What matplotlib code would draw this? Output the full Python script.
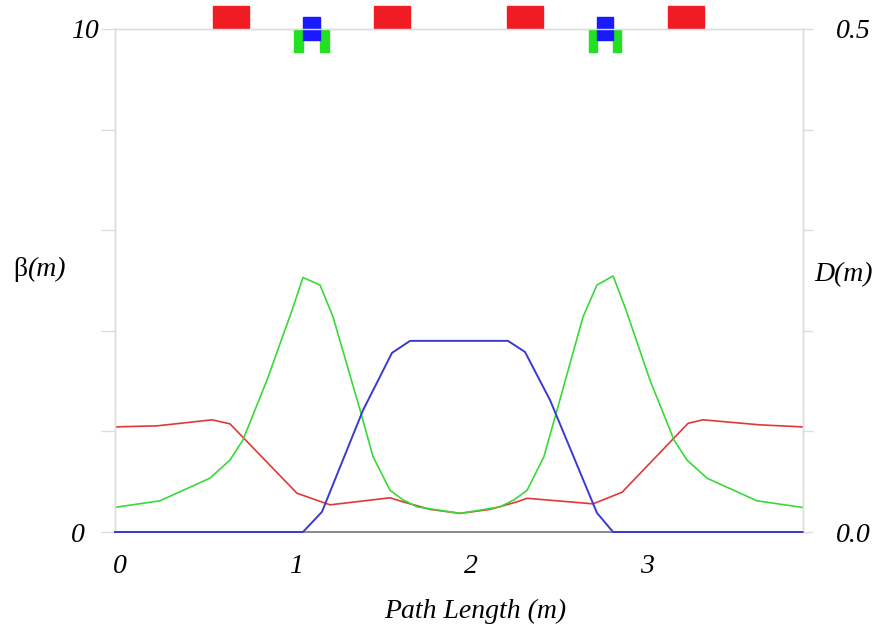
import matplotlib
matplotlib.use("Agg")
import matplotlib.pyplot as plt
import matplotlib.transforms as mtransforms
from matplotlib.patches import Rectangle

# lattice functions (s in m)
s_red = [0.000, 0.239, 0.553, 0.655, 1.037, 1.225, 1.567, 1.641, 1.795, 1.966,
         2.137, 2.291, 2.348, 2.724, 2.889, 3.265, 3.350, 3.675, 3.915]
beta_red = [2.09, 2.11, 2.23, 2.15, 0.77, 0.54, 0.68, 0.60, 0.45, 0.37,
            0.45, 0.60, 0.67, 0.56, 0.79, 2.16, 2.23, 2.13, 2.09]

s_green = [0.000, 0.256, 0.541, 0.655, 0.729, 0.866, 1.009, 1.071, 1.168, 1.242,
           1.396, 1.470, 1.567, 1.641, 1.721, 1.966, 2.194, 2.274, 2.348, 2.444,
           2.519, 2.667, 2.746, 2.838, 2.912, 3.048, 3.185, 3.259, 3.373, 3.658, 3.915]
beta_green = [0.49, 0.62, 1.07, 1.43, 1.83, 3.02, 4.41, 5.06, 4.91, 4.28,
              2.43, 1.50, 0.83, 0.64, 0.50, 0.37, 0.50, 0.64, 0.83, 1.50,
              2.43, 4.28, 4.91, 5.09, 4.41, 3.02, 1.83, 1.43, 1.07, 0.62, 0.49]

s_disp = [0.000, 1.071, 1.179, 1.413, 1.578, 1.681, 2.239, 2.336, 2.479, 2.746, 2.838, 3.915]
disp = [0.0, 0.0, 0.020, 0.121, 0.178, 0.190, 0.190, 0.179, 0.131, 0.019, 0.0, 0.0]

# magnet layout along the beamline: (start, end) in m
dipoles = [(0.558, 0.764), (1.476, 1.681), (2.234, 2.439), (3.151, 3.356)]
quads = [(1.071, 1.168), (2.746, 2.838)]
sextupoles = [(1.020, 1.071), (1.168, 1.219), (2.701, 2.746), (2.838, 2.885)]

s_max = 3.92
beta_ticks = [0, 2, 4, 6, 8, 10]
beta_labels = ["0", "", "", "", "", "10"]
disp_ticks = [0.0, 0.1, 0.2, 0.3, 0.4, 0.5]
disp_labels = ["0.0", "", "", "", "", "0.5"]
s_ticks = [0, 1, 2, 3]

SERIF = "Liberation Serif"
FS = 20

fig = plt.figure(figsize=(8.8, 6.36), dpi=100)
fig.patch.set_facecolor("white")
ax = fig.add_axes([115 / 880, 104 / 636, 688 / 880, 503 / 636])
ax2 = ax.twinx()

ax.plot(s_red, beta_red, color="#e03838", lw=1.2)
ax.plot(s_green, beta_green, color="#3ad83a", lw=1.2)
ax2.plot(s_disp, disp, color="#3a3ad0", lw=1.4, clip_on=False, zorder=4)

ax.set_xlim(0, s_max)
ax.set_ylim(0, 10)
ax2.set_ylim(0, 0.5)

for a in (ax, ax2):
    for name, sp in a.spines.items():
        sp.set_color("#dcdcdc")
        sp.set_linewidth(1.0)
    a.spines["bottom"].set_color("#8a8a8a")
    a.spines["bottom"].set_linewidth(1.3)

ax.set_yticks(beta_ticks)
ax.set_yticklabels(beta_labels, family=SERIF, style="italic", fontsize=FS)
ax.tick_params(axis="y", direction="out", length=10, width=1.0, color="#dcdcdc", pad=22)
for lbl in ax.get_yticklabels():
    lbl.set_ha("left")

ax2.set_yticks(disp_ticks)
ax2.set_yticklabels(disp_labels, family=SERIF, style="italic", fontsize=FS)
ax2.tick_params(axis="y", direction="out", length=7, width=1.0, color="#dcdcdc", pad=17)

ax.set_xticks(s_ticks)
ax.set_xticklabels([str(t) for t in s_ticks], family=SERIF, style="italic", fontsize=FS)
ax.tick_params(axis="x", length=0, pad=16)
shift = mtransforms.ScaledTranslation(5 / 100, 0, fig.dpi_scale_trans)
for lbl in ax.get_xticklabels():
    lbl.set_transform(lbl.get_transform() + shift)

ax.set_xlabel("Path Length (m)", family=SERIF, style="italic", fontsize=FS)
ax.xaxis.set_label_coords(0.523, -0.133)

# axis titles, horizontal
fig.text(13 / 880, 1 - 270 / 636, "β", family=SERIF, fontsize=FS, va="center", ha="left")
fig.text(27 / 880, 1 - 270 / 636, "(m)", family=SERIF, style="italic", fontsize=FS,
         va="center", ha="left")
fig.text(814 / 880, 1 - 275 / 636, "D(m)", family=SERIF, style="italic", fontsize=FS,
         va="center", ha="left")

# magnet symbols above the plot
trans = ax.get_xaxis_transform()
for s0, s1 in sextupoles:
    ax.add_patch(Rectangle((s0, 0.955), s1 - s0, 0.044, transform=trans,
                           color="#22e022", clip_on=False, zorder=5))
for s0, s1 in quads:
    ax.add_patch(Rectangle((s0, 0.978), s1 - s0, 0.045, transform=trans,
                           color="#1a1aff", clip_on=False, zorder=6))
for s0, s1 in dipoles:
    ax.add_patch(Rectangle((s0, 1.001), s1 - s0, 0.045, transform=trans,
                           color="#f01c24", clip_on=False, zorder=6))

fig.savefig("out.png", dpi=100, facecolor="white")
